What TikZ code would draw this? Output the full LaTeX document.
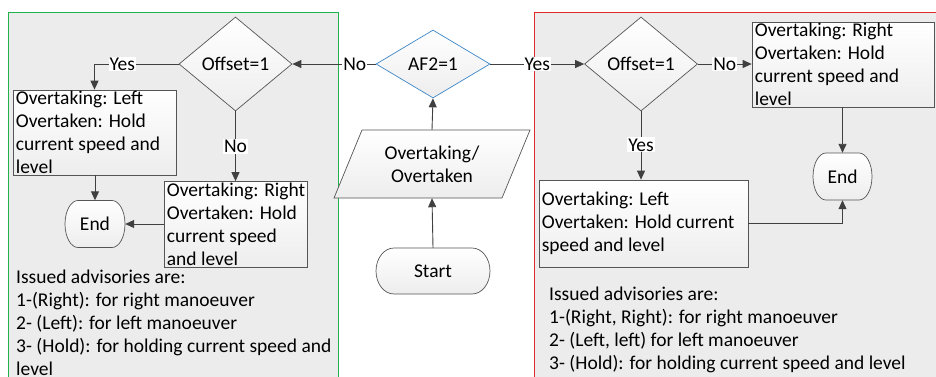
\documentclass[tikz,border=0pt]{standalone}
\usepackage{fontspec}
\setmainfont{Carlito}
\usetikzlibrary{shapes.geometric,arrows.meta}

\definecolor{linegray}{HTML}{404040}
\definecolor{edgegray}{HTML}{555555}
\definecolor{panelgray}{HTML}{ECECEC}
\definecolor{panelgreen}{HTML}{22B24C}
\definecolor{panelred}{HTML}{E02A2A}
\definecolor{decblue}{HTML}{3C86C8}

\tikzset{
  conn/.style={draw=linegray, line width=0.9pt},
  arr/.style={conn, -{Triangle[length=9pt,width=8pt]}},
  panel/.style={fill=panelgray, line width=0.9pt},
  shade/.style={top color=white, bottom color=gray!14, draw=edgegray, line width=0.7pt},
  decision/.style={shade, diamond, inner sep=0pt, minimum width=113pt, minimum height=94pt},
  procbox/.style={shade, rectangle, inner sep=0pt},
  boxtext/.style={anchor=west, align=left, inner sep=0pt},
  terminal/.style={rectangle, inner sep=0pt},
  yn/.style={fill=white, inner sep=1pt},
  note/.style={anchor=north west, align=left, inner sep=0pt},
}

\begin{document}
\begin{tikzpicture}[x=1pt, y=-1pt, font=\fontsize{19.5}{23}\selectfont, text=black]
\useasboundingbox (0,0) rectangle (936,376);

% the two result panels
\path[panel, draw=panelgreen] (8,12) rectangle (338,384);
\path[panel, draw=panelred] (534,12) rectangle (944,384);

% terminator outlines (straight top and bottom, elliptic ends)
\path[shade] (394,248) -- (472,248) arc[start angle=90, end angle=-90, x radius=18pt, y radius=23pt]
  -- (394,294) arc[start angle=270, end angle=90, x radius=18pt, y radius=23pt] -- cycle;
\path[shade] (78,200.5) -- (112,200.5) arc[start angle=90, end angle=-90, x radius=13pt, y radius=23.5pt]
  -- (78,247.5) arc[start angle=270, end angle=90, x radius=13pt, y radius=23.5pt] -- cycle;
\path[shade] (826,153) -- (859,153) arc[start angle=90, end angle=-90, x radius=13pt, y radius=23.5pt]
  -- (826,200) arc[start angle=270, end angle=90, x radius=13pt, y radius=23.5pt] -- cycle;

% centre column: start, input, first decision
\node[terminal, minimum width=114pt, minimum height=46pt] (start) at (433,271) {Start};
\path[shade] (362,130) -- (530,130) -- (502,198) -- (334,198) -- cycle;
\node[align=center, inner sep=0pt, minimum height=68pt, minimum width=140pt] (io) at (432,164) {Overtaking/\\Overtaken};
\node[decision, draw=decblue, minimum height=68pt, minimum width=114pt] (af) at (433,64) {AF2=1};

\draw[arr] (start.north) -- (io.south);
\draw[arr] (io.north) -- (af.south);

% left branch (AF2 = 0)
\node[decision] (offL) at (235.5,64) {Offset=1};
\node[procbox, minimum width=163pt, minimum height=85pt] (leftL) at (94.5,132.5) {};
\node[boxtext] at ([xshift=3pt]leftL.west) {Overtaking: Left\\Overtaken: Hold\\current speed and\\level};
\node[procbox, minimum width=143pt, minimum height=86pt] (rightL) at (235.5,224.5) {};
\node[boxtext] at ([xshift=3pt]rightL.west) {Overtaking: Right\\Overtaken: Hold\\current speed\\and level};
\node[terminal, minimum width=60pt, minimum height=47pt] (endL) at (95,224) {End};

\draw[arr] (af.west) -- node[yn, pos=0.25] {No} (offL.east);
\draw[arr] (offL.west) -- node[yn, pos=0.67] {Yes} (offL.west -| leftL.north) -- (leftL.north);
\draw[arr] (offL.south) -- node[yn, pos=0.5] {No} (rightL.north -| offL.south);
\draw[arr] (leftL.south -| endL.north) -- (endL.north);
\draw[arr] (rightL.west |- endL.east) -- (endL.east);

\node[note] at (16,270) {Issued advisories are:\\1-(Right): for right manoeuver\\2- (Left): for left manoeuver\\3- (Hold): for holding current speed and\\level};

% right branch (AF2 = 1)
\node[decision] (offR) at (641,64) {Offset=1};
\node[procbox, minimum width=182pt, minimum height=85pt] (rightR) at (843,64.5) {};
\node[boxtext] at ([xshift=3pt]rightR.west) {Overtaking: Right\\Overtaken: Hold\\current speed and\\level};
\node[procbox, minimum width=209pt, minimum height=87pt] (leftR) at (643.5,223.5) {};
\node[boxtext] at ([xshift=3pt]leftR.west) {Overtaking: Left\\Overtaken: Hold current\\speed and level};
\node[terminal, minimum width=59pt, minimum height=47pt] (endR) at (842.5,176.5) {End};

\draw[arr] (af.east) -- node[yn, pos=0.5] {Yes} (offR.west);
\draw[arr] (offR.east) -- node[yn, pos=0.5] {No} (rightR.west |- offR.east);
\draw[arr] (offR.south) -- node[yn, pos=0.49] {Yes} (leftR.north -| offR.south);
\draw[arr] (rightR.south -| endR.north) -- (endR.north);
\draw[arr] (leftR.east) -- (leftR.east -| endR.south) -- (endR.south);

\node[note] at (549,287) {Issued advisories are:\\1-(Right, Right): for right manoeuver\\2- (Left, left) for left manoeuver\\3- (Hold): for holding current speed and level};
\end{tikzpicture}
\end{document}
